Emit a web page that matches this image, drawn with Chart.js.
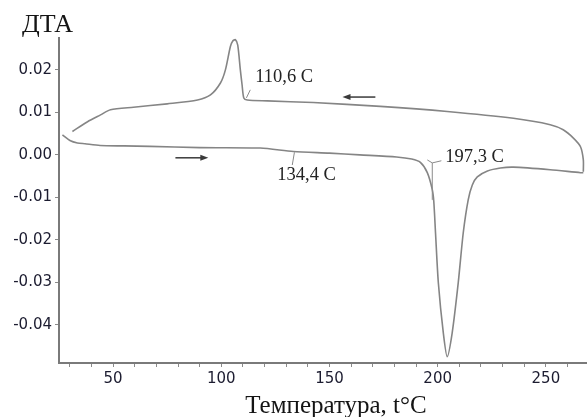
<!DOCTYPE html>
<html>
  <head>
    <meta charset="UTF-8" />
    <script src="https://cdn.jsdelivr.net/npm/chart.js"></script>
    <style>
      body {
        margin: 0;
        background: #ffffff;
      }
      #wrap {
        width: 587px;
        height: 417px;
      }
    </style>
  </head>
  <body>
    <div id="wrap"><canvas id="dtaChart" width="587" height="417"></canvas></div>
    <script>
      // нагрев (нижняя кривая)
      const heatT = [26.6, 30.3, 33.5, 37, 44, 55, 67, 90, 118, 133.3, 150, 164, 181, 188, 192, 195.2, 197.5, 198.2, 199, 200.3, 202.6, 204.4, 206.7, 209.5, 211.8, 214.1, 216, 218.3, 223, 229, 235, 252, 266, 267.3];
      const heatDTA = [0.0047, 0.0033, 0.0028, 0.0026, 0.0022, 0.0021, 0.002, 0.0017, 0.0016, 0.0008, 0.0004, 0.0, -0.0005, -0.001, -0.0018, -0.0042, -0.0082, -0.011, -0.0184, -0.0301, -0.0419, -0.0475, -0.0419, -0.0301, -0.0184, -0.0106, -0.0071, -0.0052, -0.0038, -0.0031, -0.0029, -0.0035, -0.0042, -0.0042];
      // охлаждение (верхняя кривая)
      const coolT = [267.3, 267.3, 266, 262.6, 258, 252, 235, 204.4, 173.5, 142.5, 121.3, 112, 110.4, 109.6, 108.8, 107.6, 106.5, 105.3, 104.2, 101.9, 99.6, 95, 89, 75, 59.4, 48.8, 44.2, 38.2, 31.2];
      const coolDTA = [-0.004, -0.0012, 0.0019, 0.004, 0.0059, 0.0071, 0.0086, 0.0102, 0.0114, 0.0123, 0.0127, 0.0129, 0.0134, 0.0165, 0.02, 0.0258, 0.0271, 0.0268, 0.0255, 0.02, 0.0169, 0.0141, 0.0129, 0.012, 0.0112, 0.0106, 0.0094, 0.0078, 0.0055];

      const xTicks = [30, 40, 50, 60, 70, 80, 90, 100, 110, 120, 130, 140, 150, 160, 170, 180, 190, 200, 210, 220, 230, 240, 250, 260];
      const yTicks = [-0.04, -0.03, -0.02, -0.01, 0.0, 0.01, 0.02];

      // подписи пиков: текст, t, ДТА
      const peakLabels = ["110,6 C", "134,4 C", "197,3 C"];
      const peakLabelT = [115.7, 125.9, 203.5];
      const peakLabelV = [0.0184, -0.0047, -0.0005];
      // выноски
      const leaderLines = [
        [[113.4, 0.0153], [111.6, 0.0134]],
        [[133.8, 0.0006], [132.8, -0.0024]],
        [[195.2, -0.0012], [197.5, -0.0019], [201.7, -0.0014]],
        [[197.5, -0.0019], [197.5, -0.0106]],
      ];
      // стрелки направления: начало, конец
      const arrows = [
        [[78.8, -0.0007], [94.0, -0.0007]],
        [[171.2, 0.0136], [156.0, 0.0136]],
      ];

      const toPoints = (xs, ys) => xs.map((x, i) => ({ x: x, y: ys[i] }));

      const annotate = {
        id: "annotate",
        afterDatasetsDraw(chart) {
          const c = chart.ctx;
          const sx = chart.scales.x;
          const sy = chart.scales.y;
          c.save();
          // выноски
          c.strokeStyle = "#8a8a8a";
          c.lineWidth = 1;
          leaderLines.forEach((ln) => {
            c.beginPath();
            ln.forEach((p, i) => {
              const px = sx.getPixelForValue(p[0]);
              const py = sy.getPixelForValue(p[1]);
              if (i === 0) c.moveTo(px, py);
              else c.lineTo(px, py);
            });
            c.stroke();
          });
          // стрелки
          c.strokeStyle = "#3a3a3a";
          c.fillStyle = "#3a3a3a";
          c.lineWidth = 1.5;
          arrows.forEach((a) => {
            const x0 = sx.getPixelForValue(a[0][0]);
            const y0 = sy.getPixelForValue(a[0][1]);
            const x1 = sx.getPixelForValue(a[1][0]);
            const y1 = sy.getPixelForValue(a[1][1]);
            const dir = Math.sign(x1 - x0);
            c.beginPath();
            c.moveTo(x0, y0);
            c.lineTo(x1 - dir * 4, y1);
            c.stroke();
            c.beginPath();
            c.moveTo(x1, y1);
            c.lineTo(x1 - dir * 8, y1 - 3);
            c.lineTo(x1 - dir * 8, y1 + 3);
            c.closePath();
            c.fill();
          });
          // подписи
          c.fillStyle = "#222222";
          c.font = "18.5px 'Liberation Serif', 'DejaVu Serif', serif";
          c.textBaseline = "middle";
          c.textAlign = "left";
          peakLabels.forEach((t, i) => {
            c.fillText(t, sx.getPixelForValue(peakLabelT[i]), sy.getPixelForValue(peakLabelV[i]));
          });
          // заголовки осей
          c.fillStyle = "#141414";
          c.textBaseline = "alphabetic";
          c.font = "26px 'Liberation Serif', serif";
          c.fillText("ДТА", 22, 32);
          c.font = "25px 'Liberation Serif', serif";
          c.textAlign = "center";
          c.fillText("Температура, t°C", 336, 413);
          c.restore();
        },
      };

      const ctx = document.getElementById("dtaChart").getContext("2d");
      new Chart(ctx, {
        type: "scatter",
        data: {
          datasets: [
            {
              label: "нагрев",
              data: toPoints(heatT, heatDTA),
              showLine: true,
              borderColor: "#858585",
              borderWidth: 1.6,
              pointRadius: 0,
              tension: 0.25,
            },
            {
              label: "охлаждение",
              data: toPoints(coolT, coolDTA),
              showLine: true,
              borderColor: "#858585",
              borderWidth: 1.6,
              pointRadius: 0,
              tension: 0.25,
            },
          ],
        },
        options: {
          responsive: false,
          animation: false,
          layout: { padding: { top: 38, right: 0, bottom: 0, left: 0 } },
          plugins: {
            legend: { display: false },
            tooltip: { enabled: false },
          },
          scales: {
            x: {
              type: "linear",
              min: 25,
              max: 269,
              afterBuildTicks: (axis) => {
                axis.ticks = xTicks.map((v) => ({ value: v }));
              },
              afterFit: (axis) => {
                axis.height = 54;
              },
              ticks: {
                autoSkip: false,
                maxRotation: 0,
                padding: 3,
                color: "#1c1c30",
                font: { family: "'DejaVu Sans'", size: 15 },
                callback: (v) => (v % 50 === 0 ? String(v) : ""),
              },
              grid: { drawOnChartArea: false, tickLength: 4, color: "#8a8a8a" },
              border: { color: "#7a7a7a", width: 2 },
            },
            y: {
              min: -0.049,
              max: 0.0275,
              afterBuildTicks: (axis) => {
                axis.ticks = yTicks.map((v) => ({ value: v }));
              },
              afterFit: (axis) => {
                axis.width = 59;
              },
              ticks: {
                padding: 3,
                color: "#1c1c30",
                font: { family: "'DejaVu Sans'", size: 15 },
                callback: (v) => v.toFixed(2),
              },
              grid: { drawOnChartArea: false, tickLength: 4, color: "#8a8a8a" },
              border: { color: "#7a7a7a", width: 2 },
            },
          },
        },
        plugins: [annotate],
      });
    </script>
  </body>
</html>
